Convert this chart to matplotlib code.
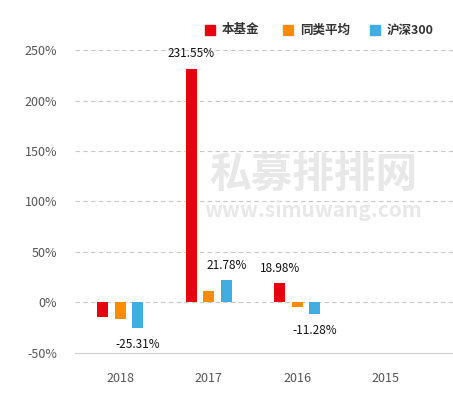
import numpy as np
import matplotlib.pyplot as plt

plt.rcParams['font.family'] = ['Noto Sans CJK SC', 'DejaVu Sans']

years = ['2018', '2017', '2016', '2015']
fund = [-14.5, 231.55, 18.98, np.nan]
peer_avg = [-16.0, 11.0, -4.5, np.nan]
hs300 = [-25.31, 21.78, -11.28, np.nan]
series_names = ['本基金', '同类平均', '沪深300']
colors = ['#e60012', '#ff8c00', '#42ade3']

# which values get a text label: (series index, year index)
labelled = [(0, 1), (2, 1), (0, 2), (2, 0), (2, 2)]

fig = plt.figure(figsize=(4.53, 3.97), dpi=100)
ax = fig.add_axes([0.1656, 0.111, 0.8344, 0.763])

x = np.arange(len(years))
offs = [-0.195, 0.0, 0.2]
width = 0.125
all_vals = [fund, peer_avg, hs300]
for i, vals in enumerate(all_vals):
    ax.bar(x + offs[i], vals, width, color=colors[i], zorder=3)

for si, yi in labelled:
    v = all_vals[si][yi]
    if v >= 0:
        ax.annotate(f'{v:.2f}%', (x[yi] + offs[si], v), xytext=(0, 6),
                    textcoords='offset points', ha='center', va='bottom',
                    fontsize=8.5, color='#111111', zorder=5)
    else:
        ax.annotate(f'{v:.2f}%', (x[yi] + offs[si], v), xytext=(0, -7),
                    textcoords='offset points', ha='center', va='top',
                    fontsize=8.5, color='#111111', zorder=5)

ax.set_ylim(-50, 250)
ax.set_xlim(-0.51, 3.76)
ax.set_yticks([-50, 0, 50, 100, 150, 200, 250])
ax.set_yticklabels([f'{t}%' for t in [-50, 0, 50, 100, 150, 200, 250]])
ax.set_xticks(x)
ax.set_xticklabels(years)
for t in [0, 50, 100, 150, 200, 250]:
    ax.axhline(t, color='#c8c8c8', lw=0.8, ls=(0, (4, 3)), zorder=1)
ax.tick_params(axis='both', length=0, labelsize=9, colors='#555555')
ax.tick_params(axis='y', pad=13)
ax.tick_params(axis='x', pad=14)
for s in ['top', 'right', 'left']:
    ax.spines[s].set_visible(False)
ax.spines['bottom'].set_color('#d0d0d0')
ax.spines['bottom'].set_linewidth(0.8)

# watermark
ax.text(0.63, 0.59, '私募排排网', transform=ax.transAxes, ha='center', va='center',
        fontsize=30, fontweight='bold', color='#e8e8e8', zorder=2)
ax.text(0.63, 0.47, 'www.simuwang.com', transform=ax.transAxes, ha='center', va='center',
        fontsize=15, fontweight='bold', color='#e8e8e8', zorder=2)

# legend
leg_x = [205, 283, 370]
for i, name in enumerate(series_names):
    fig.patches.append(plt.Rectangle((leg_x[i] / 453, 1 - 35 / 397), 10 / 453, 10 / 397,
                                     transform=fig.transFigure, color=colors[i]))
    fig.text((leg_x[i] + 17) / 453, 1 - 30 / 397, name, ha='left', va='center',
             fontsize=9, fontweight='bold', color='#333333')

fig.savefig('out.png', dpi=100)
